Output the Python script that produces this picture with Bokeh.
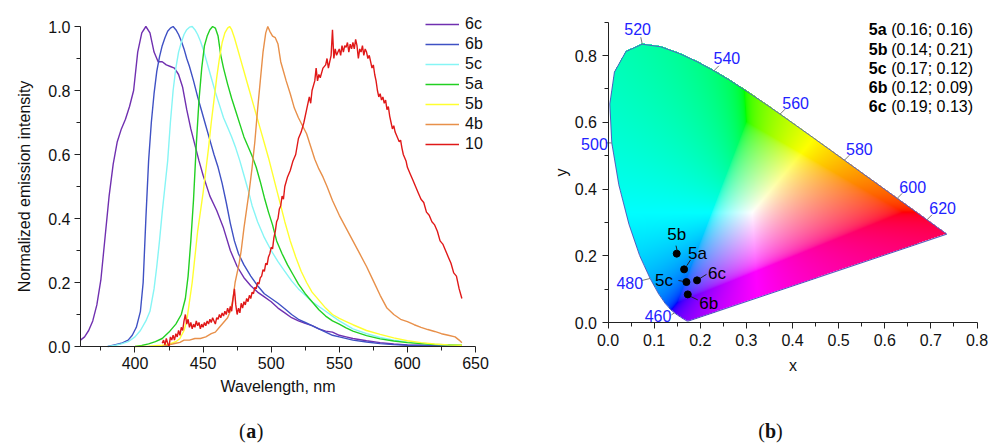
import numpy as np
from bokeh.plotting import figure
from bokeh.models import Legend, LegendItem, Label, FixedTicker, PrintfTickFormatter
from bokeh.layouts import row
from bokeh.embed import file_html
from bokeh.resources import INLINE
from bokeh.core.properties import value

FONT = "Liberation Sans"

# ---------------- (a) emission spectra ----------------
wl_6c = [360, 363, 366, 369, 372, 375, 378, 381, 384, 387, 390, 393, 396, 399, 402, 405, 408, 411, 414, 417,
         420, 423, 426, 429, 432, 435, 438, 441, 444, 447, 450, 455, 460, 465, 470, 475, 480, 485, 490, 495,
         500, 505, 510, 515, 520, 525, 530, 535, 540, 545, 550, 555, 560, 570, 580, 590, 600, 610, 620, 630, 640]
int_6c = [0.02, 0.03, 0.05, 0.08, 0.13, 0.21, 0.34, 0.47, 0.57, 0.64, 0.68, 0.71, 0.75, 0.80, 0.92, 0.98, 1.00, 0.98, 0.92, 0.89,
          0.89, 0.88, 0.875, 0.87, 0.85, 0.81, 0.74, 0.68, 0.63, 0.58, 0.535, 0.47, 0.425, 0.37, 0.30, 0.25, 0.215, 0.19, 0.17, 0.155,
          0.14, 0.12, 0.105, 0.09, 0.08, 0.072, 0.065, 0.055, 0.048, 0.045, 0.035, 0.03, 0.025, 0.018, 0.012, 0.008, 0.005, 0.004, 0.003, 0.002, 0.002]

wl_6b = [380, 385, 390, 395, 398, 401, 404, 406, 408, 410, 412, 414, 416, 418, 420, 422, 424, 426, 428, 430,
         432, 434, 436, 438, 440, 443, 446, 449, 452, 455, 458, 461, 464, 467, 470, 473, 476, 480, 485, 490,
         495, 500, 505, 510, 515, 520, 525, 530, 535, 540, 545, 550, 560, 570, 580, 590, 600, 610, 620, 630, 640]
int_6b = [0.0, 0.005, 0.01, 0.02, 0.035, 0.06, 0.11, 0.2, 0.4, 0.58, 0.70, 0.79, 0.86, 0.905, 0.94, 0.965, 0.985, 0.995, 1.0, 0.99,
          0.975, 0.955, 0.93, 0.90, 0.875, 0.83, 0.78, 0.735, 0.69, 0.645, 0.60, 0.56, 0.51, 0.45, 0.385, 0.33, 0.29, 0.255, 0.22, 0.19,
          0.165, 0.15, 0.135, 0.118, 0.1, 0.085, 0.075, 0.065, 0.055, 0.045, 0.035, 0.03, 0.02, 0.014, 0.009, 0.006, 0.004, 0.003, 0.002, 0.002, 0.001]

wl_5c = [380, 385, 390, 395, 400, 404, 408, 411, 414, 416, 418, 420, 422, 424, 426, 428, 430, 432, 434, 436,
         438, 440, 442, 444, 446, 448, 450, 453, 456, 459, 462, 465, 468, 471, 474, 477, 480, 483, 486, 490,
         495, 500, 505, 510, 515, 520, 525, 530, 535, 540, 545, 550, 560, 570, 580, 590, 600, 610, 620, 630, 640]
int_5c = [0.0, 0.003, 0.008, 0.015, 0.03, 0.05, 0.08, 0.11, 0.18, 0.25, 0.33, 0.42, 0.50, 0.58, 0.70, 0.80, 0.87, 0.92, 0.95, 0.975,
          0.99, 0.998, 1.0, 0.99, 0.975, 0.955, 0.93, 0.885, 0.84, 0.795, 0.755, 0.715, 0.685, 0.655, 0.62, 0.58, 0.535, 0.49, 0.44, 0.39,
          0.34, 0.30, 0.265, 0.235, 0.205, 0.18, 0.16, 0.14, 0.125, 0.11, 0.095, 0.08, 0.055, 0.04, 0.028, 0.02, 0.014, 0.01, 0.007, 0.005, 0.004]

wl_5a = [400, 405, 410, 415, 420, 425, 430, 434, 437, 439, 441, 443, 445, 447, 449, 451, 453, 455, 457, 459,
         461, 463, 465, 468, 471, 474, 477, 480, 483, 486, 489, 492, 495, 498, 501, 504, 508, 512, 516, 520,
         525, 530, 535, 540, 545, 550, 555, 560, 570, 580, 590, 600, 610, 620, 630, 640]
int_5a = [0.0, 0.003, 0.008, 0.015, 0.025, 0.045, 0.07, 0.10, 0.15, 0.22, 0.33, 0.46, 0.63, 0.77, 0.87, 0.94, 0.97, 0.99, 1.0, 0.995,
          0.97, 0.91, 0.87, 0.82, 0.775, 0.735, 0.695, 0.655, 0.625, 0.595, 0.56, 0.515, 0.465, 0.42, 0.38, 0.33, 0.29, 0.255, 0.225, 0.195,
          0.165, 0.14, 0.115, 0.095, 0.08, 0.07, 0.058, 0.048, 0.034, 0.024, 0.017, 0.012, 0.009, 0.006, 0.005, 0.004]

wl_5b = [400, 410, 420, 425, 430, 433, 436, 438, 440, 442, 444, 446, 448, 450, 452, 454, 456, 458, 460, 462,
         464, 466, 468, 469.5, 471, 473, 475, 477, 480, 483, 486, 489, 492, 495, 498, 501, 504, 507, 510, 514,
         518, 522, 526, 530, 535, 540, 545, 550, 555, 560, 570, 580, 590, 600, 610, 620, 630, 640]
int_5b = [0.0, 0.001, 0.004, 0.007, 0.015, 0.025, 0.05, 0.08, 0.14, 0.2, 0.28, 0.36, 0.42, 0.48, 0.55, 0.62, 0.70, 0.77, 0.84, 0.9,
          0.95, 0.98, 0.995, 1.0, 0.99, 0.965, 0.935, 0.905, 0.86, 0.815, 0.77, 0.725, 0.68, 0.635, 0.59, 0.54, 0.49, 0.44, 0.39, 0.33,
          0.28, 0.235, 0.2, 0.17, 0.145, 0.12, 0.10, 0.088, 0.078, 0.068, 0.05, 0.038, 0.027, 0.018, 0.012, 0.008, 0.005, 0.004]

wl_4b = [420, 425, 430, 433, 436, 440, 444, 448, 452, 456, 459, 462, 465, 468, 470, 472, 473.5, 475, 476.5, 478,
         480, 482, 484, 486, 488, 490, 492, 494, 496, 497.5, 499, 501, 503, 505, 507, 509, 511, 514, 517, 520,
         523, 526, 529, 532, 535, 538, 541, 545, 550, 555, 560, 565, 570, 575, 580, 585, 590, 595, 600, 605,
         610, 615, 620, 625, 630, 635, 638, 640]
int_4b = [0.0, 0.005, 0.01, 0.013, 0.02, 0.02, 0.025, 0.025, 0.03, 0.04, 0.045, 0.06, 0.075, 0.09, 0.11, 0.15, 0.2, 0.23, 0.26, 0.30,
          0.37, 0.43, 0.49, 0.56, 0.64, 0.74, 0.83, 0.92, 0.98, 1.0, 0.985, 0.97, 0.965, 0.945, 0.89, 0.86, 0.83, 0.79, 0.745, 0.715,
          0.69, 0.665, 0.625, 0.585, 0.555, 0.53, 0.5, 0.456, 0.41, 0.37, 0.33, 0.29, 0.25, 0.205, 0.16, 0.12, 0.10, 0.085, 0.078, 0.068,
          0.06, 0.053, 0.047, 0.04, 0.035, 0.03, 0.02, 0.012]

wl_10 = [420, 421, 422, 423, 424, 425, 426, 427, 428, 429, 430, 431, 432, 433, 434, 435, 436, 437, 438, 439,
         440, 441, 442, 443, 444, 445, 446, 447, 448, 449, 450, 451, 452, 453, 454, 455, 456, 457, 458, 459,
         460, 461, 462, 463, 464, 465, 466, 467, 468, 469, 470, 471, 472, 473, 474, 475, 476, 477, 478, 479,
         480, 481, 482, 483, 484, 485, 486, 487, 488, 489, 490, 491, 492, 493, 494, 495, 496, 497, 498, 499,
         500, 501, 502, 503, 504, 505, 506, 507, 508, 509, 510, 512, 514, 516, 518, 520, 522, 524, 526, 528,
         529, 530, 532, 533, 534, 535, 536, 538, 540, 541, 542, 543, 544, 545, 546, 547, 548, 549, 550, 551,
         552, 553, 554, 555, 556, 557, 558, 559, 560, 561, 562, 563, 564, 565, 566, 567, 568, 569, 570, 571,
         572, 573, 574, 575, 576, 577, 578, 579, 580, 581, 582, 583, 584, 585, 586, 587, 588, 589, 590, 591,
         592, 593, 594, 595, 596, 597, 598, 599, 600, 602, 604, 606, 608, 610, 612, 614, 616, 618, 620, 622,
         624, 626, 628, 630, 632, 634, 636, 638, 640]
int_10 = [0.01, 0.02, 0.005, 0.025, 0.01, 0.0, 0.03, 0.02, 0.035, 0.02, 0.04, 0.03, 0.05, 0.035, 0.06, 0.05, 0.08, 0.1, 0.07, 0.085,
          0.06, 0.075, 0.055, 0.07, 0.06, 0.08, 0.065, 0.075, 0.055, 0.07, 0.06, 0.075, 0.065, 0.08, 0.07, 0.085, 0.075, 0.09, 0.08, 0.07,
          0.09, 0.085, 0.1, 0.09, 0.105, 0.095, 0.11, 0.1, 0.12, 0.105, 0.125, 0.11, 0.15, 0.18, 0.13, 0.1, 0.12, 0.105, 0.135, 0.12,
          0.14, 0.13, 0.15, 0.14, 0.16, 0.15, 0.17, 0.165, 0.185, 0.18, 0.2, 0.195, 0.215, 0.22, 0.24, 0.235, 0.26, 0.255, 0.28, 0.29,
          0.31, 0.305, 0.34, 0.36, 0.39, 0.4, 0.43, 0.44, 0.47, 0.46, 0.5, 0.53, 0.55, 0.58, 0.6, 0.65, 0.67, 0.7, 0.74, 0.78,
          0.76, 0.8, 0.83, 0.87, 0.83, 0.85, 0.84, 0.87, 0.88, 0.9, 0.87, 0.89, 0.91, 0.99, 0.9, 0.93, 0.91, 0.92, 0.93, 0.91,
          0.94, 0.92, 0.94, 0.935, 0.95, 0.92, 0.945, 0.93, 0.95, 0.93, 0.96, 0.94, 0.9, 0.93, 0.92, 0.94, 0.91, 0.93, 0.92, 0.9,
          0.91, 0.89, 0.87, 0.88, 0.85, 0.83, 0.8, 0.78, 0.79, 0.77, 0.78, 0.76, 0.77, 0.74, 0.75, 0.72, 0.7, 0.68, 0.69, 0.67,
          0.66, 0.65, 0.64, 0.645, 0.62, 0.6, 0.59, 0.58, 0.56, 0.54, 0.52, 0.5, 0.48, 0.46, 0.45, 0.42, 0.41, 0.39, 0.38, 0.36,
          0.33, 0.32, 0.3, 0.28, 0.26, 0.23, 0.22, 0.18, 0.15]

series_names = ["6c", "6b", "5c", "5a", "5b", "4b", "10"]
series_wl = [wl_6c, wl_6b, wl_5c, wl_5a, wl_5b, wl_4b, wl_10]
series_int = [int_6c, int_6b, int_5c, int_5a, int_5b, int_4b, int_10]
series_colors = ["#7030B0", "#3F51C4", "#86F5F5", "#22D022", "#FFFF30", "#E8904A", "#E01818"]

x_ticks_a = [400, 450, 500, 550, 600, 650]
x_minor_a = [375, 425, 475, 525, 575, 625]
y_ticks_a = [0.0, 0.2, 0.4, 0.6, 0.8, 1.0]
y_minor_a = [0.1, 0.3, 0.5, 0.7, 0.9]

# ---------------- (b) CIE 1931 chromaticity ----------------
locus_wl = [380, 385, 390, 395, 400, 405, 410, 415, 420, 425, 430, 435, 440, 445, 450, 455, 460, 465, 470, 475,
            480, 485, 490, 495, 500, 505, 510, 515, 520, 525, 530, 535, 540, 545, 550, 555, 560, 565, 570, 575,
            580, 585, 590, 595, 600, 605, 610, 615, 620, 625, 630, 635, 640, 645, 650, 660, 670, 680, 700]
locus_x = [0.1741, 0.1740, 0.1738, 0.1736, 0.1733, 0.1730, 0.1726, 0.1721, 0.1714, 0.1703, 0.1689, 0.1669, 0.1644, 0.1611,
           0.1566, 0.1510, 0.1440, 0.1355, 0.1241, 0.1096, 0.0913, 0.0687, 0.0454, 0.0235, 0.0082, 0.0039, 0.0139, 0.0389,
           0.0743, 0.1142, 0.1547, 0.1929, 0.2296, 0.2658, 0.3016, 0.3373, 0.3731, 0.4087, 0.4441, 0.4788, 0.5125, 0.5448,
           0.5752, 0.6029, 0.6270, 0.6482, 0.6658, 0.6801, 0.6915, 0.7006, 0.7079, 0.7140, 0.7190, 0.7230, 0.7260, 0.7300,
           0.7320, 0.7334, 0.7347]
locus_y = [0.0050, 0.0050, 0.0049, 0.0049, 0.0048, 0.0048, 0.0048, 0.0048, 0.0051, 0.0058, 0.0069, 0.0086, 0.0109, 0.0138,
           0.0177, 0.0227, 0.0297, 0.0399, 0.0578, 0.0868, 0.1327, 0.2007, 0.2950, 0.4127, 0.5384, 0.6548, 0.7502, 0.8120,
           0.8338, 0.8262, 0.8059, 0.7816, 0.7543, 0.7243, 0.6923, 0.6589, 0.6245, 0.5896, 0.5547, 0.5202, 0.4866, 0.4544,
           0.4242, 0.3965, 0.3725, 0.3514, 0.3340, 0.3197, 0.3083, 0.2993, 0.2920, 0.2859, 0.2809, 0.2770, 0.2740, 0.2700,
           0.2680, 0.2666, 0.2653]

marked_wl = [460, 480, 500, 520, 540, 560, 580, 600, 620]

point_names = ["5b", "5a", "5c", "6c", "6b"]
point_x = [0.149, 0.165, 0.170, 0.193, 0.173]
point_y = [0.207, 0.160, 0.122, 0.127, 0.085]

table_names = ["5a", "5b", "5c", "6b", "6c"]
table_cx = [0.16, 0.14, 0.17, 0.12, 0.19]
table_cy = [0.16, 0.21, 0.12, 0.09, 0.13]

x_ticks_b = [0.0, 0.1, 0.2, 0.3, 0.4, 0.5, 0.6, 0.7, 0.8]
x_minor_b = [0.05, 0.15, 0.25, 0.35, 0.45, 0.55, 0.65, 0.75]
y_ticks_b = [0.0, 0.2, 0.4, 0.6, 0.8]
y_minor_b = [0.1, 0.3, 0.5, 0.7, 0.9]

# ---------------- layout constants (page pixels) ----------------
W, H = 991, 444
A_FIG_W = 490
A_X0, A_Y0 = 80.0, 346.0        # page position of (360 nm, 0) in (a)
A_SX, A_SY = 395 / 290.0, 320.0  # px per nm, px per unit
B_X0, B_Y0 = 607.5, 322.3       # page position of (0, 0) in (b)
SX, SY = 461.25, 334.1          # px per unit in (b)
CAPTION_MID = 430               # page y of caption centre line


def style_axes(p):
    p.outline_line_color = None
    p.grid.visible = False
    p.background_fill_color = "white"
    p.border_fill_color = "white"
    for ax in list(p.xaxis) + list(p.yaxis):
        ax.axis_line_color = "#222222"
        ax.major_tick_line_color = "#222222"
        ax.minor_tick_line_color = "#222222"
        ax.major_tick_out = 6
        ax.major_tick_in = 0
        ax.minor_tick_out = 4
        ax.minor_tick_in = 0
        ax.major_label_text_font = FONT
        ax.major_label_text_font_size = "16px"
        ax.major_label_text_color = "#111111"
        ax.axis_label_text_font = FONT
        ax.axis_label_text_font_size = "16px"
        ax.axis_label_text_font_style = "normal"
        ax.axis_label_text_color = "#111111"


def caption(p, xc, ym, letter):
    common = dict(text_baseline="middle", text_font="Liberation Serif", text_font_size="20px",
                  text_color="#111111")
    p.add_layout(Label(x=xc, y=ym, text=letter, text_align="center", text_font_style="bold", **common))
    p.add_layout(Label(x=xc, y=ym, x_offset=-5.5, text="(", text_align="right", **common))
    p.add_layout(Label(x=xc, y=ym, x_offset=5.5, text=")", text_align="left", **common))


# ---------------- figure (a): frame covers the whole canvas, axes fixed at data origin ----------------
p1 = figure(width=A_FIG_W, height=H,
            x_range=(360 - A_X0 / A_SX, 360 + (A_FIG_W - A_X0) / A_SX),
            y_range=(-(H - A_Y0) / A_SY, A_Y0 / A_SY),
            output_backend="svg", toolbar_location=None,
            min_border_left=0, min_border_right=0, min_border_top=0, min_border_bottom=0)
style_axes(p1)
p1.xaxis.ticker = FixedTicker(ticks=x_ticks_a, minor_ticks=x_minor_a)
p1.yaxis.ticker = FixedTicker(ticks=y_ticks_a, minor_ticks=y_minor_a)
p1.yaxis.formatter = PrintfTickFormatter(format="%.1f")
p1.xaxis.formatter = PrintfTickFormatter(format="%d")
p1.xaxis.fixed_location = 0
p1.yaxis.fixed_location = 360
p1.xaxis.bounds = (360, 650)
p1.yaxis.bounds = (0, 1.0)
p1.xaxis.axis_label = "Wavelength, nm"
p1.yaxis.axis_label = "Normalized emission intensity"
p1.xaxis.major_label_standoff = 4
p1.yaxis.major_label_standoff = 4
p1.xaxis.axis_label_standoff = 6
p1.yaxis.axis_label_standoff = 12

items = []
for name, wl, inten, col in zip(series_names, series_wl, series_int, series_colors):
    r = p1.line(wl, inten, line_color=col, line_width=1.4)
    items.append(LegendItem(label=name, renderers=[r]))

leg_top, leg_h = 15, 7 * 18 + 6 * 2
leg = Legend(items=items, location=(425, H - leg_top - leg_h), padding=0, spacing=2, margin=0,
             glyph_width=34, glyph_height=18, label_height=18, label_standoff=6,
             border_line_color=None, background_fill_alpha=0,
             label_text_font=FONT, label_text_font_size="16px", label_text_color="#111111")
p1.add_layout(leg)

caption(p1, 360 + (250.7 - A_X0) / A_SX, -(CAPTION_MID - A_Y0) / A_SY, "a")

# ---------------- figure (b) ----------------
b_w = W - A_FIG_W
p2 = figure(width=b_w, height=H,
            x_range=(-(B_X0 - A_FIG_W) / SX, (W - B_X0) / SX),
            y_range=(-(H - B_Y0) / SY, B_Y0 / SY),
            output_backend="svg", toolbar_location=None,
            min_border_left=0, min_border_right=0, min_border_top=0, min_border_bottom=0)
style_axes(p2)
p2.xaxis.ticker = FixedTicker(ticks=x_ticks_b, minor_ticks=x_minor_b)
p2.yaxis.ticker = FixedTicker(ticks=y_ticks_b, minor_ticks=y_minor_b)
p2.xaxis.formatter = PrintfTickFormatter(format="%.1f")
p2.yaxis.formatter = PrintfTickFormatter(format="%.1f")
p2.xaxis.fixed_location = 0
p2.yaxis.fixed_location = 0
p2.xaxis.bounds = (0, 0.8)
p2.yaxis.bounds = (0, 0.9)
p2.xaxis.axis_label = "x"
p2.yaxis.axis_label = "y"
p2.xaxis.major_label_standoff = 5
p2.yaxis.major_label_standoff = 5
p2.xaxis.axis_label_standoff = 8
p2.yaxis.axis_label_standoff = 2

# chromaticity fill (computed colour field, masked to the spectral locus)
XMAX, YMAX = 0.8, 0.9
nx, ny = 369, 301
gx = (np.arange(nx) + 0.5) * XMAX / nx
gy = (np.arange(ny) + 0.5) * YMAX / ny
GX, GY = np.meshgrid(gx, gy)
vx = np.array(locus_x)
vy = np.array(locus_y)
inside = np.zeros(GX.shape, dtype=bool)
j = len(vx) - 1
for i in range(len(vx)):
    xi, yi, xj, yj = vx[i], vy[i], vx[j], vy[j]
    cond = ((yi > GY) != (yj > GY)) & (GX < (xj - xi) * (GY - yi) / (yj - yi + 1e-12) + xi)
    inside ^= cond
    j = i
Yc = np.ones_like(GX)
Xc = GX / GY
Zc = (1 - GX - GY) / GY
M = np.array([[3.2406, -1.5372, -0.4986], [-0.9689, 1.8758, 0.0415], [0.0557, -0.2040, 1.0570]])
rgb = np.einsum("ij,jkl->ikl", M, np.stack([Xc, Yc, Zc]))
mn = np.minimum(rgb.min(axis=0), 0)
rgb = rgb - mn
mx = rgb.max(axis=0)
mx[mx == 0] = 1
rgb = rgb / mx
rgb = np.where(rgb <= 0.0031308, 12.92 * rgb, 1.055 * np.power(np.clip(rgb, 0, None), 1 / 2.4) - 0.055)
rgb = np.clip(rgb, 0, 1)
img = np.zeros((ny, nx), dtype=np.uint32)
view = img.view(dtype=np.uint8).reshape((ny, nx, 4))
view[:, :, 0] = (rgb[0] * 255).astype(np.uint8)
view[:, :, 1] = (rgb[1] * 255).astype(np.uint8)
view[:, :, 2] = (rgb[2] * 255).astype(np.uint8)
view[:, :, 3] = np.where(inside, 255, 0).astype(np.uint8)
p2.image_rgba(image=[img], x=0, y=0, dw=XMAX, dh=YMAX)

p2.patch(locus_x, locus_y, fill_color=None, line_color="#4f5fc0", line_width=1)

# wavelength marks: tick direction / label placement in screen pixels (dx right, dy up)
label_px = {460: (-3, -3, "right"), 480: (-7, -5, "right"), 500: (-4, -1.3, "right"),
            520: (-4.6, 14.8, "center"), 540: (13, 12.4, "center"), 560: (15.5, 11, "center"),
            580: (15, 11, "center"), 600: (15.5, 11, "center"), 620: (15.7, 11.4, "center")}
tick_px = {460: (-3, -2), 480: (-8, -2), 500: (-6, 0), 520: (-1.5, 7), 540: (5, 5),
           560: (5, 5), 580: (5, 5), 600: (5, 5), 620: (5, 5)}
tx0, ty0, tx1, ty1 = [], [], [], []
for w in marked_wl:
    k = locus_wl.index(w)
    lx, ly = locus_x[k], locus_y[k]
    tdx, tdy = tick_px[w]
    tx0.append(lx); ty0.append(ly); tx1.append(lx + tdx / SX); ty1.append(ly + tdy / SY)
    dx, dy, al = label_px[w]
    p2.add_layout(Label(x=lx + dx / SX, y=ly + dy / SY, text=str(w), text_align=al, text_baseline="middle",
                        text_font=FONT, text_font_size="16px", text_color="#2222ff"))
p2.segment(tx0, ty0, tx1, ty1, line_color="#7a7a7a", line_width=1)

# sample points with leader lines and labels
name_off = {"5b": (0, 19), "5a": (13.4, 15.7), "5c": (-22.4, 1.7), "6c": (20, 7.3), "6b": (21, -9.3)}
lead_off = {"5b": (-0.7, 8, 0.3, 3.5), "5a": (2.7, 3.7, 6.5, 9.5), "5c": (-8, 1.5, -3, 0.7),
            "6c": (2.5, 1.7, 9.5, 6), "6b": (2.7, -2, 10, -5.5)}
lx0, ly0, lx1, ly1, nx_, ny_ = [], [], [], [], [], []
for nm, px_, py_ in zip(point_names, point_x, point_y):
    a, b, c, d = lead_off[nm]
    lx0.append(px_ + a / SX); ly0.append(py_ + b / SY); lx1.append(px_ + c / SX); ly1.append(py_ + d / SY)
    ox, oy = name_off[nm]
    nx_.append(px_ + ox / SX); ny_.append(py_ + oy / SY)
p2.segment(lx0, ly0, lx1, ly1, line_color="#222222", line_width=1)
p2.scatter(point_x, point_y, size=7, color="black")
p2.text(nx_, ny_, text=point_names, text_align="center", text_baseline="middle",
        text_font=value(FONT), text_font_size="17px", text_color="black")

# coordinate table (top right)
row_y0 = (B_Y0 - 29.3) / SY
row_step = 19.2 / SY
tab_y = [row_y0 - i * row_step for i in range(len(table_names))]
name_x = (868.3 - B_X0) / SX
coord_x = (890.7 - B_X0) / SX
coord_txt = ["(%.2f; %.2f)" % (a, b) for a, b in zip(table_cx, table_cy)]
p2.text([name_x] * len(table_names), tab_y, text=table_names, text_align="left", text_baseline="middle",
        text_font=value(FONT), text_font_size="16px", text_font_style="bold", text_color="black")
p2.text([coord_x] * len(table_names), tab_y, text=coord_txt, text_align="left", text_baseline="middle",
        text_font=value(FONT), text_font_size="16px", text_color="black")

caption(p2, (770 - B_X0) / SX, -(CAPTION_MID - B_Y0) / SY, "b")

layout = row(p1, p2, spacing=0)
open("out.html", "w").write(file_html(layout, INLINE))
